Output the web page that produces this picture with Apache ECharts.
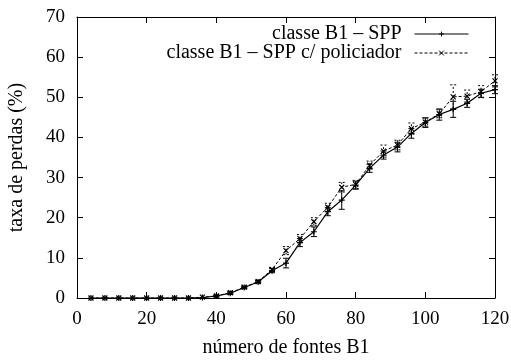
<!DOCTYPE html>
<html>
<head>
<meta charset="utf-8">
<script src="https://cdn.jsdelivr.net/npm/echarts@6/dist/echarts.min.js"></script>
<style>
  html, body { margin: 0; padding: 0; background: #fff; }
  #chart { width: 511px; height: 360px; }
</style>
</head>
<body>
<div id="chart"></div>
<script>
// Number of B1 sources (x)
const fontes = [4, 8, 12, 16, 20, 24, 28, 32, 36, 40, 44, 48, 52, 56, 60,
                64, 68, 72, 76, 80, 84, 88, 92, 96, 100, 104, 108, 112, 116, 120];

// Loss rate (%) — class B1, SPP
const perdasSPP = [0, 0, 0, 0, 0, 0, 0, 0, 0.1, 0.5, 1.2, 2.6, 4.0, 6.8, 8.7,
                   13.8, 16.5, 21.5, 24.4, 28.1, 32.3, 35.6, 37.6, 41.0, 43.7, 45.7, 47.0, 48.5, 51.0, 51.9];
const erroSPP = [0, 0, 0, 0, 0, 0, 0, 0, 0.1, 0.2, 0.3, 0.3, 0.3, 0.5, 1.2,
                 1.0, 1.2, 1.0, 2.3, 1.0, 1.0, 1.0, 1.2, 1.2, 1.2, 1.4, 2.0, 1.0, 1.0, 1.0];

// Loss rate (%) — class B1, SPP with policer
const perdasPol = [0, 0, 0, 0, 0, 0, 0, 0, 0.2, 0.5, 1.3, 2.7, 4.1, 7.1, 11.8,
                   14.8, 19.0, 22.6, 27.6, 28.3, 33.1, 36.6, 38.1, 42.2, 43.8, 45.9, 50.1, 50.3, 51.4, 54.1];
const erroPol = [0, 0, 0, 0, 0, 0, 0, 0, 0.1, 0.2, 0.3, 0.3, 0.3, 0.5, 1.0,
                 1.0, 1.0, 1.0, 1.2, 1.0, 1.0, 1.5, 1.2, 1.4, 1.0, 1.0, 3.0, 1.5, 1.5, 1.5];

const nomeSPP = 'classe B1 – SPP';
const nomePol = 'classe B1 – SPP c/ policiador';

const xTicks = { min: 0, max: 120, interval: 20 };
const yTicks = { min: 0, max: 70, interval: 10 };

const fonte = 'Liberation Serif, Times New Roman, serif';

const plus = 'path://M0,5L10,5M5,0L5,10';
const cross = 'path://M0,0L10,10M10,0L0,10';

function pares(ys) { return fontes.map((x, i) => [x, ys[i]]); }
function barras(ys, es) { return fontes.map((x, i) => [x, ys[i] - es[i], ys[i] + es[i]]); }

function errorBar(dashed) {
  return function (params, api) {
    const x = api.value(0);
    const lo = api.coord([x, api.value(1)]);
    const hi = api.coord([x, api.value(2)]);
    if (Math.abs(lo[1] - hi[1]) < 1) return null;
    const w = 3;
    const style = { stroke: '#000', lineWidth: 1, lineDash: dashed ? [2, 2] : null, fill: null };
    return {
      type: 'group',
      children: [
        { type: 'line', shape: { x1: lo[0], y1: lo[1], x2: hi[0], y2: hi[1] }, style: style },
        { type: 'line', shape: { x1: lo[0] - w, y1: lo[1], x2: lo[0] + w, y2: lo[1] }, style: style },
        { type: 'line', shape: { x1: hi[0] - w, y1: hi[1], x2: hi[0] + w, y2: hi[1] }, style: style }
      ]
    };
  };
}

const axisCommon = {
  axisLine: { show: true, onZero: false, lineStyle: { color: '#000', width: 1 } },
  axisTick: { show: true, inside: true, length: 6, lineStyle: { color: '#000' } },
  splitLine: { show: false }
};

const legendText = { fontFamily: fonte, fontSize: 20, color: '#000', padding: [0, 8, 0, 0] };
const legendBase = {
  right: 42, align: 'right', orient: 'vertical',
  itemWidth: 54, itemHeight: 6, padding: 0, textStyle: legendText,
  lineStyle: { width: 1 }, itemStyle: { borderWidth: 1 }
};

const chart = echarts.init(document.getElementById('chart'), null, { renderer: 'canvas' });
chart.setOption({
  animation: false,
  backgroundColor: '#fff',
  textStyle: { fontFamily: fonte, color: '#000' },
  grid: { left: 77, right: 16, top: 17, bottom: 62, containLabel: false, outerBoundsMode: 'none' },
  legend: [
    Object.assign({ data: [nomeSPP], top: 24 }, legendBase),
    Object.assign({ data: [nomePol], top: 43 }, legendBase)
  ],
  xAxis: [
    Object.assign({
      type: 'value', position: 'bottom', min: xTicks.min, max: xTicks.max, interval: xTicks.interval,
      name: 'número de fontes B1', nameLocation: 'middle', nameGap: 40,
      nameTextStyle: { fontFamily: fonte, fontSize: 20, color: '#000' },
      axisLabel: { fontFamily: fonte, fontSize: 19, color: '#000', margin: 12 }
    }, axisCommon),
    Object.assign({
      type: 'value', position: 'top', min: xTicks.min, max: xTicks.max, interval: xTicks.interval,
      axisLabel: { show: false }
    }, axisCommon)
  ],
  yAxis: [
    Object.assign({
      type: 'value', position: 'left', min: yTicks.min, max: yTicks.max, interval: yTicks.interval,
      name: 'taxa de perdas (%)', nameLocation: 'middle', nameGap: 50, nameRotate: 90,
      nameTextStyle: { fontFamily: fonte, fontSize: 20, color: '#000' },
      axisLabel: { fontFamily: fonte, fontSize: 19, color: '#000', margin: 12 }
    }, axisCommon),
    Object.assign({
      type: 'value', position: 'right', min: yTicks.min, max: yTicks.max, interval: yTicks.interval,
      axisLabel: { show: false }
    }, axisCommon)
  ],
  series: [
    {
      name: nomeSPP, type: 'line', data: pares(perdasSPP),
      symbol: plus, symbolSize: 6, showAllSymbol: true,
      lineStyle: { color: '#000', width: 1.2, type: 'solid' },
      itemStyle: { color: 'none', borderColor: '#000', borderWidth: 1.2 },
      z: 3
    },
    {
      name: nomePol, type: 'line', data: pares(perdasPol),
      symbol: cross, symbolSize: 5, showAllSymbol: true,
      lineStyle: { color: '#000', width: 1, type: [3, 2] },
      itemStyle: { color: 'none', borderColor: '#000', borderWidth: 1.2 },
      z: 3
    },
    {
      type: 'custom', data: barras(perdasSPP, erroSPP),
      renderItem: errorBar(false), encode: { x: 0, y: [1, 2] }, silent: true, z: 2
    },
    {
      type: 'custom', data: barras(perdasPol, erroPol),
      renderItem: errorBar(true), encode: { x: 0, y: [1, 2] }, silent: true, z: 2
    }
  ]
});
</script>
</body>
</html>
